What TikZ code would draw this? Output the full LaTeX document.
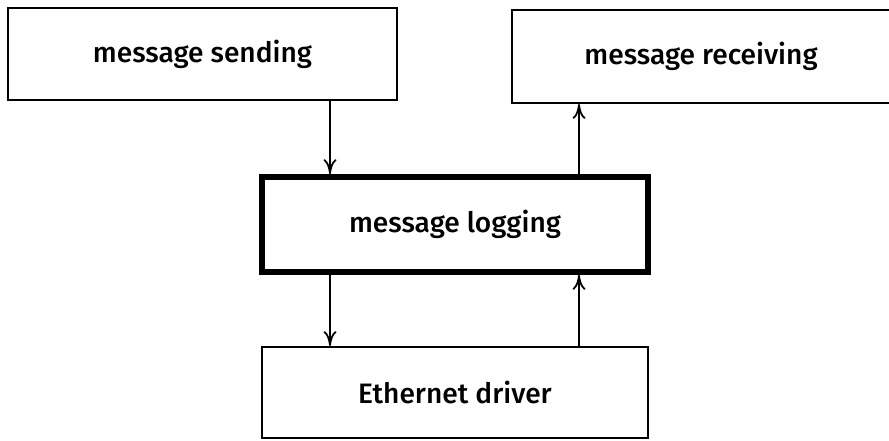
\documentclass[tikz,border=0pt]{standalone}
\usepackage{fontspec}
\setmainfont{Fira Sans}[UprightFont={* Medium}]
\usetikzlibrary{arrows.meta}
\begin{document}
\begin{tikzpicture}[
  block/.style={draw, shape=rectangle, line width=1.1pt, font=\fontsize{16}{19}\selectfont},
  >={To[length=3mm, width=2.6mm]}]
\useasboundingbox (0,0) rectangle (17.78,8.8);
\node (sending) [block, minimum width=7.78cm, minimum height=1.84cm] at (4.05,7.72) {message sending};
\node (receiving) [block, minimum width=7.56cm, minimum height=1.86cm] at (14.02,7.67) {message receiving};
\node (logging) [block, line width=3.2pt, minimum width=7.72cm, minimum height=1.9cm] at (9.1,4.31) {message logging};
\node (ethernet) [block, minimum width=7.72cm, minimum height=1.82cm] at (9.1,0.95) {Ethernet driver};
\draw[->, line width=1pt] ([xshift=-2.5cm]logging.north |- sending.south) -- ([xshift=-2.5cm]logging.north);
\draw[->, line width=1pt] ([xshift=2.48cm]logging.north) -- ([xshift=2.48cm]logging.north |- receiving.south);
\draw[->, line width=1pt] ([xshift=-2.5cm]logging.south) -- ([xshift=-2.5cm]logging.south |- ethernet.north);
\draw[->, line width=1pt] ([xshift=2.48cm]logging.south |- ethernet.north) -- ([xshift=2.48cm]logging.south);
\end{tikzpicture}
\end{document}
